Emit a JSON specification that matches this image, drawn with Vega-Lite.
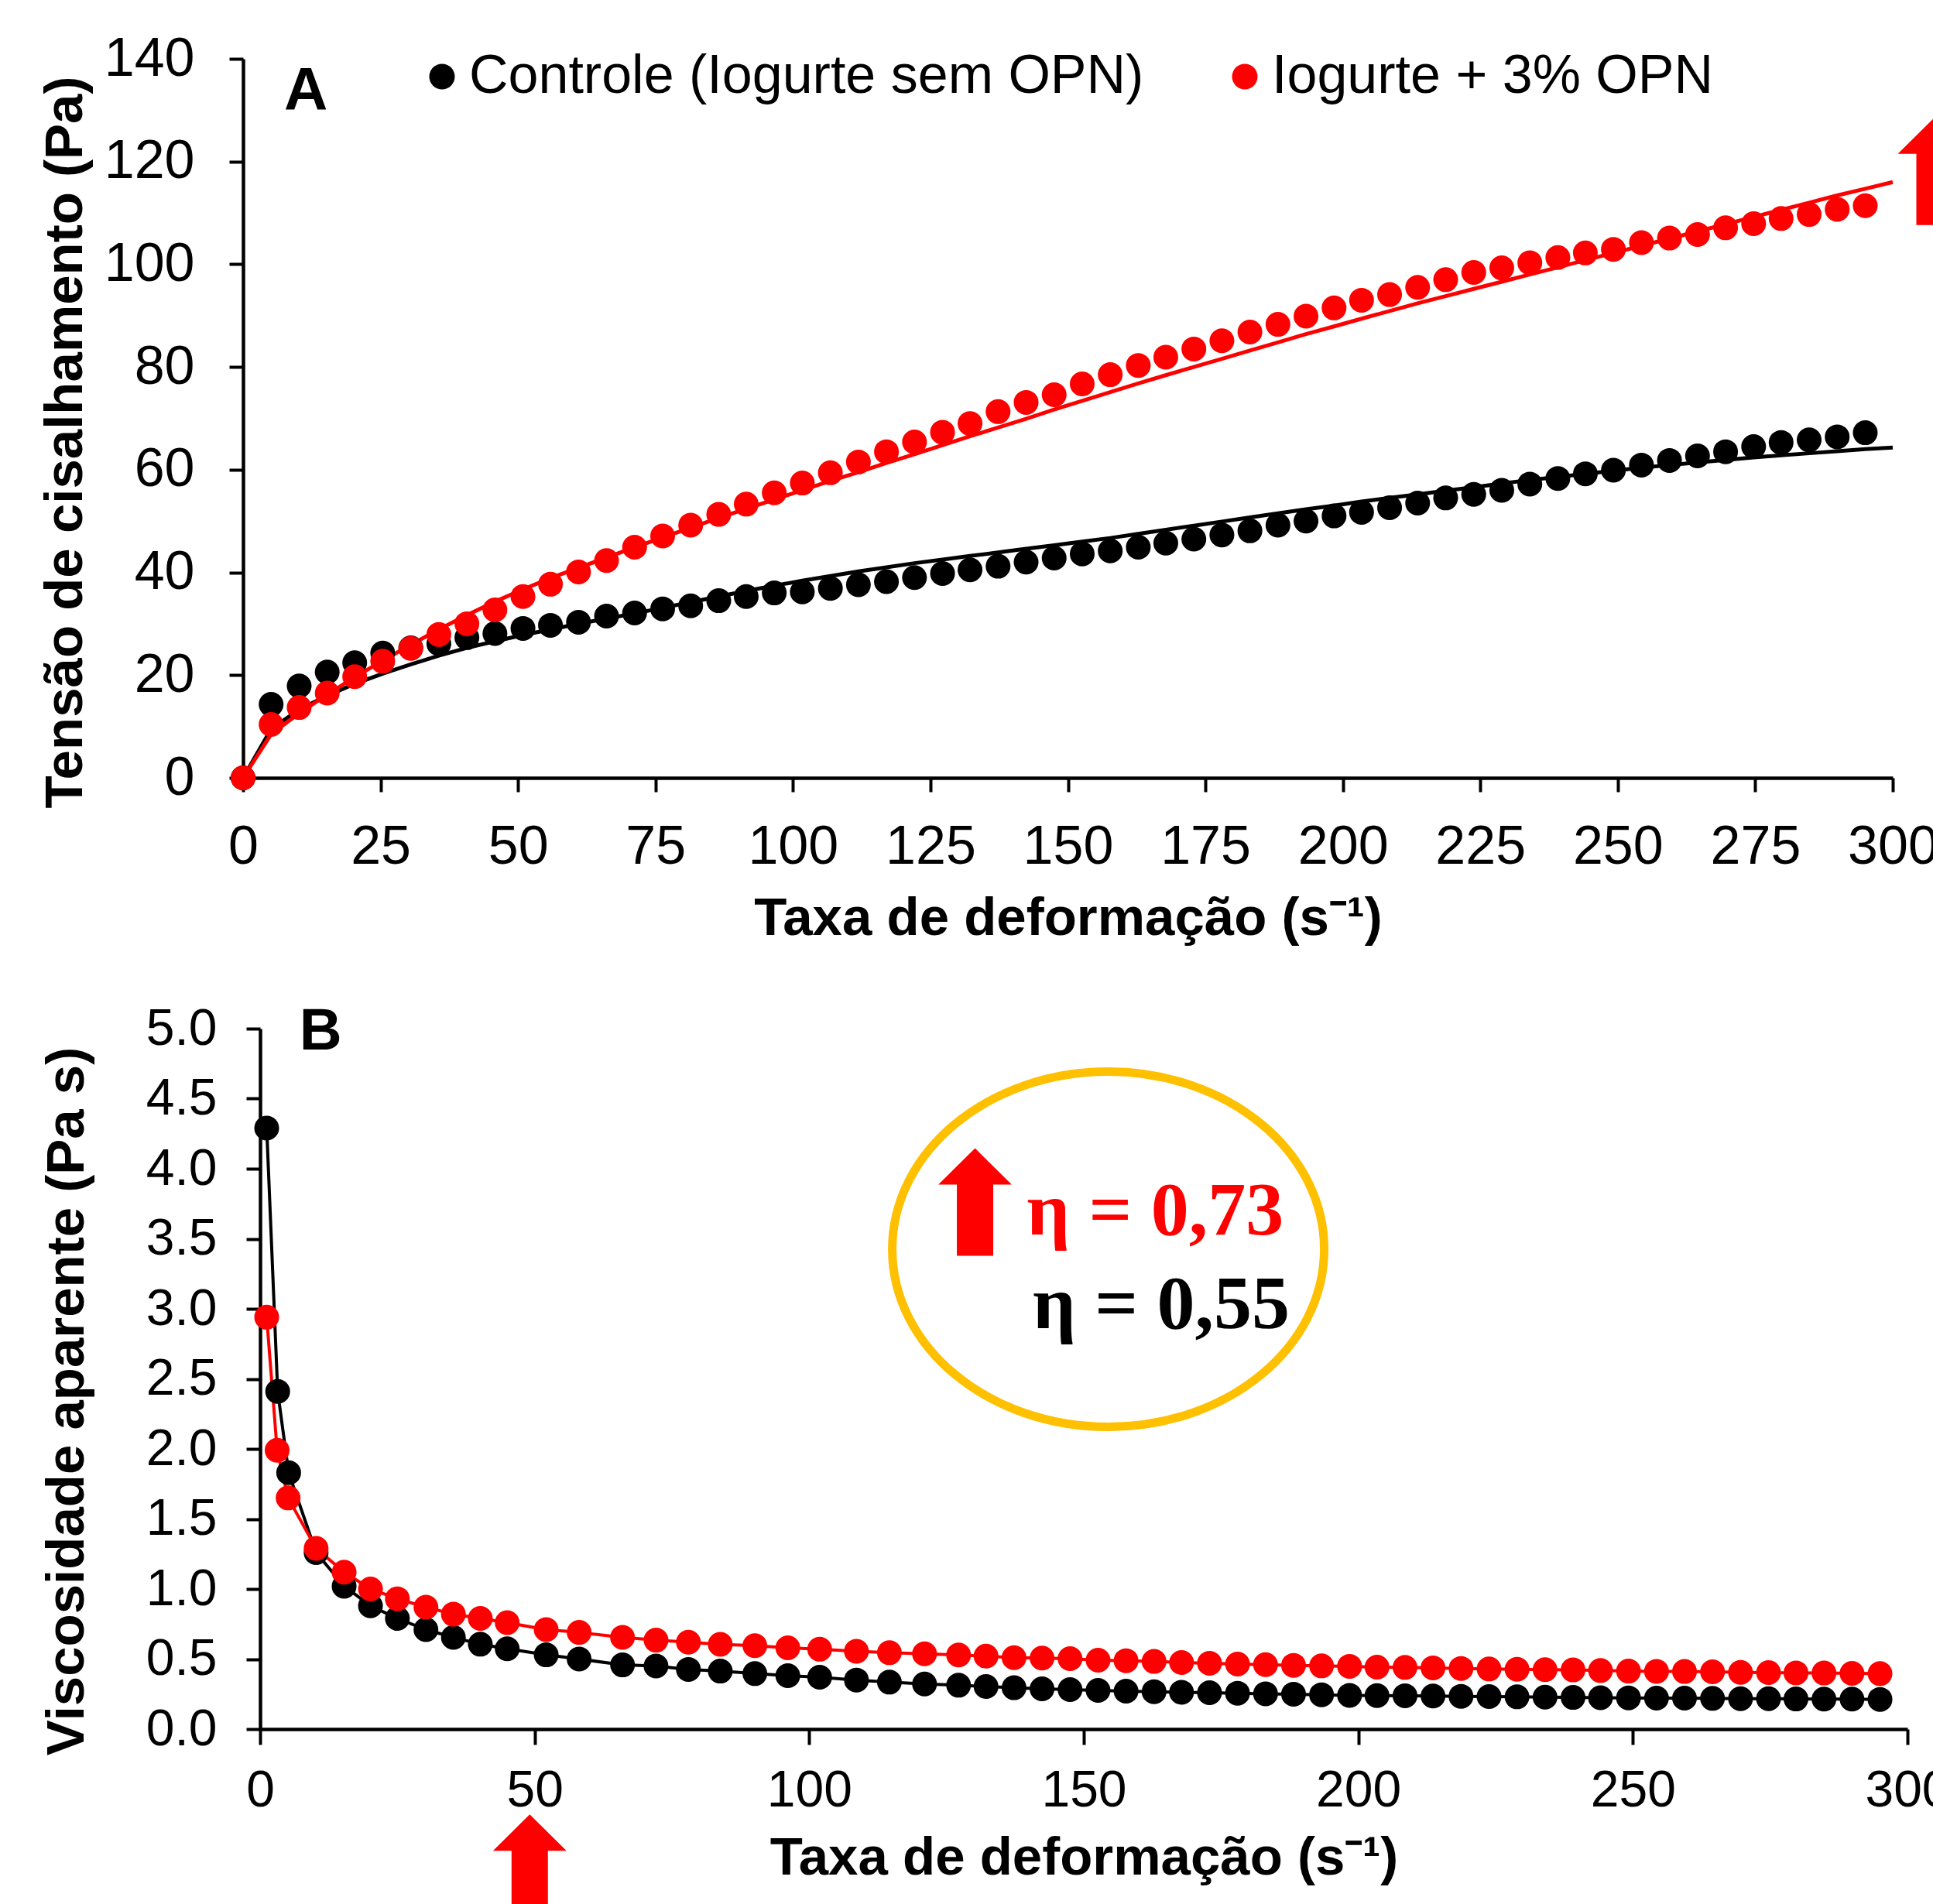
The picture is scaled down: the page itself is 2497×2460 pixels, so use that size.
{
  "$schema": "https://vega.github.io/schema/vega-lite/v6.json",
  "background": "white",
  "padding": {"left": 49, "top": 41, "right": 0, "bottom": 0},
  "autosize": {"type": "pad"},
  "columns": 1,
  "bounds": "full",
  "spacing": 73,
  "config": {
    "font": "Liberation Sans",
    "view": {"stroke": null},
    "axis": {
      "grid": false, "domainColor": "#000000", "domainWidth": 4.5, "tickColor": "#000000", "tickWidth": 4,
      "labelColor": "#000000", "titleColor": "#000000", "labelFont": "Liberation Sans", "titleFont": "Liberation Sans",
      "titleFontWeight": "bold", "labelFlush": false, "labelOverlap": false, "labelBound": false
    }
  },
  "resolve": {"scale": {"color": "independent"}, "legend": {"color": "independent"}},
  "datasets": {
    "ptsA": [
      {"series":"Controle (Iogurte sem OPN)","rate":0,"tau":0},{"series":"Controle (Iogurte sem OPN)","rate":5.1,"tau":14.3},{"series":"Controle (Iogurte sem OPN)","rate":10.2,"tau":17.9},{"series":"Controle (Iogurte sem OPN)","rate":15.3,"tau":20.6},{"series":"Controle (Iogurte sem OPN)","rate":20.3,"tau":22.4},{"series":"Controle (Iogurte sem OPN)","rate":25.4,"tau":24.3},{"series":"Controle (Iogurte sem OPN)","rate":30.5,"tau":25.3},{"series":"Controle (Iogurte sem OPN)","rate":35.6,"tau":26.1},{"series":"Controle (Iogurte sem OPN)","rate":40.7,"tau":27.3},{"series":"Controle (Iogurte sem OPN)","rate":45.8,"tau":28.1},{"series":"Controle (Iogurte sem OPN)","rate":50.9,"tau":29.1},{"series":"Controle (Iogurte sem OPN)","rate":55.9,"tau":29.7},{"series":"Controle (Iogurte sem OPN)","rate":61.0,"tau":30.3},{"series":"Controle (Iogurte sem OPN)","rate":66.1,"tau":31.5},{"series":"Controle (Iogurte sem OPN)","rate":71.2,"tau":32.1},{"series":"Controle (Iogurte sem OPN)","rate":76.3,"tau":32.9},{"series":"Controle (Iogurte sem OPN)","rate":81.4,"tau":33.5},{"series":"Controle (Iogurte sem OPN)","rate":86.5,"tau":34.5},{"series":"Controle (Iogurte sem OPN)","rate":91.5,"tau":35.3},{"series":"Controle (Iogurte sem OPN)","rate":96.6,"tau":36.0},{"series":"Controle (Iogurte sem OPN)","rate":101.7,"tau":36.2},{"series":"Controle (Iogurte sem OPN)","rate":106.8,"tau":36.9},{"series":"Controle (Iogurte sem OPN)","rate":111.9,"tau":37.6},{"series":"Controle (Iogurte sem OPN)","rate":117.0,"tau":38.2},{"series":"Controle (Iogurte sem OPN)","rate":122.1,"tau":39.0},{"series":"Controle (Iogurte sem OPN)","rate":127.2,"tau":39.8},{"series":"Controle (Iogurte sem OPN)","rate":132.2,"tau":40.5},{"series":"Controle (Iogurte sem OPN)","rate":137.3,"tau":41.2},{"series":"Controle (Iogurte sem OPN)","rate":142.4,"tau":42.0},{"series":"Controle (Iogurte sem OPN)","rate":147.5,"tau":42.8},{"series":"Controle (Iogurte sem OPN)","rate":152.6,"tau":43.6},{"series":"Controle (Iogurte sem OPN)","rate":157.7,"tau":44.2},{"series":"Controle (Iogurte sem OPN)","rate":162.8,"tau":44.9},{"series":"Controle (Iogurte sem OPN)","rate":167.8,"tau":45.7},{"series":"Controle (Iogurte sem OPN)","rate":172.9,"tau":46.5},{"series":"Controle (Iogurte sem OPN)","rate":178.0,"tau":47.3},{"series":"Controle (Iogurte sem OPN)","rate":183.1,"tau":48.1},{"series":"Controle (Iogurte sem OPN)","rate":188.2,"tau":49.2},{"series":"Controle (Iogurte sem OPN)","rate":193.3,"tau":50.0},{"series":"Controle (Iogurte sem OPN)","rate":198.4,"tau":51.0},{"series":"Controle (Iogurte sem OPN)","rate":203.4,"tau":51.7},{"series":"Controle (Iogurte sem OPN)","rate":208.5,"tau":52.6},{"series":"Controle (Iogurte sem OPN)","rate":213.6,"tau":53.5},{"series":"Controle (Iogurte sem OPN)","rate":218.7,"tau":54.5},{"series":"Controle (Iogurte sem OPN)","rate":223.8,"tau":55.2},{"series":"Controle (Iogurte sem OPN)","rate":228.9,"tau":56.0},{"series":"Controle (Iogurte sem OPN)","rate":234.0,"tau":57.2},{"series":"Controle (Iogurte sem OPN)","rate":239.1,"tau":58.3},{"series":"Controle (Iogurte sem OPN)","rate":244.1,"tau":59.2},{"series":"Controle (Iogurte sem OPN)","rate":249.2,"tau":59.9},{"series":"Controle (Iogurte sem OPN)","rate":254.3,"tau":60.9},{"series":"Controle (Iogurte sem OPN)","rate":259.4,"tau":61.8},{"series":"Controle (Iogurte sem OPN)","rate":264.5,"tau":62.7},{"series":"Controle (Iogurte sem OPN)","rate":269.6,"tau":63.5},{"series":"Controle (Iogurte sem OPN)","rate":274.7,"tau":64.5},{"series":"Controle (Iogurte sem OPN)","rate":279.7,"tau":65.3},{"series":"Controle (Iogurte sem OPN)","rate":284.8,"tau":65.8},{"series":"Controle (Iogurte sem OPN)","rate":289.9,"tau":66.4},{"series":"Controle (Iogurte sem OPN)","rate":295.0,"tau":67.2},
      {"series":"Iogurte + 3% OPN","rate":0,"tau":0},{"series":"Iogurte + 3% OPN","rate":5.1,"tau":10.4},{"series":"Iogurte + 3% OPN","rate":10.2,"tau":13.7},{"series":"Iogurte + 3% OPN","rate":15.3,"tau":16.5},{"series":"Iogurte + 3% OPN","rate":20.3,"tau":19.7},{"series":"Iogurte + 3% OPN","rate":25.4,"tau":22.7},{"series":"Iogurte + 3% OPN","rate":30.5,"tau":25.2},{"series":"Iogurte + 3% OPN","rate":35.6,"tau":27.9},{"series":"Iogurte + 3% OPN","rate":40.7,"tau":30.0},{"series":"Iogurte + 3% OPN","rate":45.8,"tau":32.7},{"series":"Iogurte + 3% OPN","rate":50.9,"tau":35.3},{"series":"Iogurte + 3% OPN","rate":55.9,"tau":37.7},{"series":"Iogurte + 3% OPN","rate":61.0,"tau":40.1},{"series":"Iogurte + 3% OPN","rate":66.1,"tau":42.3},{"series":"Iogurte + 3% OPN","rate":71.2,"tau":44.9},{"series":"Iogurte + 3% OPN","rate":76.3,"tau":47.1},{"series":"Iogurte + 3% OPN","rate":81.4,"tau":49.2},{"series":"Iogurte + 3% OPN","rate":86.5,"tau":51.3},{"series":"Iogurte + 3% OPN","rate":91.5,"tau":53.3},{"series":"Iogurte + 3% OPN","rate":96.6,"tau":55.5},{"series":"Iogurte + 3% OPN","rate":101.7,"tau":57.4},{"series":"Iogurte + 3% OPN","rate":106.8,"tau":59.4},{"series":"Iogurte + 3% OPN","rate":111.9,"tau":61.5},{"series":"Iogurte + 3% OPN","rate":117.0,"tau":63.5},{"series":"Iogurte + 3% OPN","rate":122.1,"tau":65.4},{"series":"Iogurte + 3% OPN","rate":127.2,"tau":67.3},{"series":"Iogurte + 3% OPN","rate":132.2,"tau":69.0},{"series":"Iogurte + 3% OPN","rate":137.3,"tau":71.3},{"series":"Iogurte + 3% OPN","rate":142.4,"tau":73.1},{"series":"Iogurte + 3% OPN","rate":147.5,"tau":74.6},{"series":"Iogurte + 3% OPN","rate":152.6,"tau":76.7},{"series":"Iogurte + 3% OPN","rate":157.7,"tau":78.5},{"series":"Iogurte + 3% OPN","rate":162.8,"tau":80.3},{"series":"Iogurte + 3% OPN","rate":167.8,"tau":81.9},{"series":"Iogurte + 3% OPN","rate":172.9,"tau":83.5},{"series":"Iogurte + 3% OPN","rate":178.0,"tau":85.1},{"series":"Iogurte + 3% OPN","rate":183.1,"tau":86.8},{"series":"Iogurte + 3% OPN","rate":188.2,"tau":88.3},{"series":"Iogurte + 3% OPN","rate":193.3,"tau":89.9},{"series":"Iogurte + 3% OPN","rate":198.4,"tau":91.5},{"series":"Iogurte + 3% OPN","rate":203.4,"tau":93.0},{"series":"Iogurte + 3% OPN","rate":208.5,"tau":94.1},{"series":"Iogurte + 3% OPN","rate":213.6,"tau":95.5},{"series":"Iogurte + 3% OPN","rate":218.7,"tau":97.0},{"series":"Iogurte + 3% OPN","rate":223.8,"tau":98.4},{"series":"Iogurte + 3% OPN","rate":228.9,"tau":99.3},{"series":"Iogurte + 3% OPN","rate":234.0,"tau":100.3},{"series":"Iogurte + 3% OPN","rate":239.1,"tau":101.3},{"series":"Iogurte + 3% OPN","rate":244.1,"tau":102.2},{"series":"Iogurte + 3% OPN","rate":249.2,"tau":102.9},{"series":"Iogurte + 3% OPN","rate":254.3,"tau":104.2},{"series":"Iogurte + 3% OPN","rate":259.4,"tau":105.1},{"series":"Iogurte + 3% OPN","rate":264.5,"tau":105.8},{"series":"Iogurte + 3% OPN","rate":269.6,"tau":107.1},{"series":"Iogurte + 3% OPN","rate":274.7,"tau":107.9},{"series":"Iogurte + 3% OPN","rate":279.7,"tau":108.9},{"series":"Iogurte + 3% OPN","rate":284.8,"tau":109.7},{"series":"Iogurte + 3% OPN","rate":289.9,"tau":110.7},{"series":"Iogurte + 3% OPN","rate":295.0,"tau":111.4}
    ],
    "fitA": [
      {"series":"Controle (Iogurte sem OPN)","rate":0,"tau":0},{"series":"Controle (Iogurte sem OPN)","rate":5.1,"tau":9.5},{"series":"Controle (Iogurte sem OPN)","rate":10.2,"tau":13.3},{"series":"Controle (Iogurte sem OPN)","rate":15.3,"tau":16.0},{"series":"Controle (Iogurte sem OPN)","rate":20.3,"tau":18.3},{"series":"Controle (Iogurte sem OPN)","rate":25.4,"tau":20.3},{"series":"Controle (Iogurte sem OPN)","rate":30.5,"tau":22.1},{"series":"Controle (Iogurte sem OPN)","rate":35.6,"tau":23.8},{"series":"Controle (Iogurte sem OPN)","rate":40.7,"tau":25.3},{"series":"Controle (Iogurte sem OPN)","rate":45.8,"tau":26.6},{"series":"Controle (Iogurte sem OPN)","rate":50.9,"tau":27.8},{"series":"Controle (Iogurte sem OPN)","rate":55.9,"tau":28.9},{"series":"Controle (Iogurte sem OPN)","rate":61.0,"tau":30.0},{"series":"Controle (Iogurte sem OPN)","rate":66.1,"tau":31.0},{"series":"Controle (Iogurte sem OPN)","rate":71.2,"tau":32.0},{"series":"Controle (Iogurte sem OPN)","rate":76.3,"tau":33.1},{"series":"Controle (Iogurte sem OPN)","rate":81.4,"tau":34.2},{"series":"Controle (Iogurte sem OPN)","rate":86.5,"tau":35.3},{"series":"Controle (Iogurte sem OPN)","rate":91.5,"tau":36.4},{"series":"Controle (Iogurte sem OPN)","rate":96.6,"tau":37.4},{"series":"Controle (Iogurte sem OPN)","rate":101.7,"tau":38.4},{"series":"Controle (Iogurte sem OPN)","rate":106.8,"tau":39.3},{"series":"Controle (Iogurte sem OPN)","rate":111.9,"tau":40.2},{"series":"Controle (Iogurte sem OPN)","rate":117.0,"tau":41.0},{"series":"Controle (Iogurte sem OPN)","rate":122.1,"tau":41.8},{"series":"Controle (Iogurte sem OPN)","rate":127.2,"tau":42.5},{"series":"Controle (Iogurte sem OPN)","rate":132.2,"tau":43.2},{"series":"Controle (Iogurte sem OPN)","rate":137.3,"tau":43.9},{"series":"Controle (Iogurte sem OPN)","rate":142.4,"tau":44.6},{"series":"Controle (Iogurte sem OPN)","rate":147.5,"tau":45.3},{"series":"Controle (Iogurte sem OPN)","rate":152.6,"tau":46.0},{"series":"Controle (Iogurte sem OPN)","rate":157.7,"tau":46.7},{"series":"Controle (Iogurte sem OPN)","rate":162.8,"tau":47.5},{"series":"Controle (Iogurte sem OPN)","rate":167.8,"tau":48.3},{"series":"Controle (Iogurte sem OPN)","rate":172.9,"tau":49.1},{"series":"Controle (Iogurte sem OPN)","rate":178.0,"tau":49.9},{"series":"Controle (Iogurte sem OPN)","rate":183.1,"tau":50.7},{"series":"Controle (Iogurte sem OPN)","rate":188.2,"tau":51.5},{"series":"Controle (Iogurte sem OPN)","rate":193.3,"tau":52.3},{"series":"Controle (Iogurte sem OPN)","rate":198.4,"tau":53.0},{"series":"Controle (Iogurte sem OPN)","rate":203.4,"tau":53.8},{"series":"Controle (Iogurte sem OPN)","rate":208.5,"tau":54.5},{"series":"Controle (Iogurte sem OPN)","rate":213.6,"tau":55.2},{"series":"Controle (Iogurte sem OPN)","rate":218.7,"tau":55.9},{"series":"Controle (Iogurte sem OPN)","rate":223.8,"tau":56.6},{"series":"Controle (Iogurte sem OPN)","rate":228.9,"tau":57.3},{"series":"Controle (Iogurte sem OPN)","rate":234.0,"tau":58.0},{"series":"Controle (Iogurte sem OPN)","rate":239.1,"tau":58.6},{"series":"Controle (Iogurte sem OPN)","rate":244.1,"tau":59.2},{"series":"Controle (Iogurte sem OPN)","rate":249.2,"tau":59.8},{"series":"Controle (Iogurte sem OPN)","rate":254.3,"tau":60.4},{"series":"Controle (Iogurte sem OPN)","rate":259.4,"tau":60.9},{"series":"Controle (Iogurte sem OPN)","rate":264.5,"tau":61.4},{"series":"Controle (Iogurte sem OPN)","rate":269.6,"tau":61.9},{"series":"Controle (Iogurte sem OPN)","rate":274.7,"tau":62.4},{"series":"Controle (Iogurte sem OPN)","rate":279.7,"tau":62.8},{"series":"Controle (Iogurte sem OPN)","rate":284.8,"tau":63.2},{"series":"Controle (Iogurte sem OPN)","rate":289.9,"tau":63.6},{"series":"Controle (Iogurte sem OPN)","rate":295.0,"tau":64.0},{"series":"Controle (Iogurte sem OPN)","rate":300,"tau":64.3},
      {"series":"Iogurte + 3% OPN","rate":0,"tau":0},{"series":"Iogurte + 3% OPN","rate":5.1,"tau":8.5},{"series":"Iogurte + 3% OPN","rate":10.2,"tau":12.6},{"series":"Iogurte + 3% OPN","rate":15.3,"tau":16.2},{"series":"Iogurte + 3% OPN","rate":20.3,"tau":19.6},{"series":"Iogurte + 3% OPN","rate":25.4,"tau":22.8},{"series":"Iogurte + 3% OPN","rate":30.5,"tau":25.9},{"series":"Iogurte + 3% OPN","rate":35.6,"tau":28.9},{"series":"Iogurte + 3% OPN","rate":40.7,"tau":31.7},{"series":"Iogurte + 3% OPN","rate":45.8,"tau":34.3},{"series":"Iogurte + 3% OPN","rate":50.9,"tau":36.7},{"series":"Iogurte + 3% OPN","rate":55.9,"tau":38.9},{"series":"Iogurte + 3% OPN","rate":61.0,"tau":40.9},{"series":"Iogurte + 3% OPN","rate":66.1,"tau":42.9},{"series":"Iogurte + 3% OPN","rate":71.2,"tau":44.9},{"series":"Iogurte + 3% OPN","rate":76.3,"tau":46.8},{"series":"Iogurte + 3% OPN","rate":81.4,"tau":48.7},{"series":"Iogurte + 3% OPN","rate":86.5,"tau":50.6},{"series":"Iogurte + 3% OPN","rate":91.5,"tau":52.4},{"series":"Iogurte + 3% OPN","rate":96.6,"tau":54.2},{"series":"Iogurte + 3% OPN","rate":101.7,"tau":56.0},{"series":"Iogurte + 3% OPN","rate":106.8,"tau":57.8},{"series":"Iogurte + 3% OPN","rate":111.9,"tau":59.5},{"series":"Iogurte + 3% OPN","rate":117.0,"tau":61.3},{"series":"Iogurte + 3% OPN","rate":122.1,"tau":63.0},{"series":"Iogurte + 3% OPN","rate":127.2,"tau":64.8},{"series":"Iogurte + 3% OPN","rate":132.2,"tau":66.5},{"series":"Iogurte + 3% OPN","rate":137.3,"tau":68.2},{"series":"Iogurte + 3% OPN","rate":142.4,"tau":69.9},{"series":"Iogurte + 3% OPN","rate":147.5,"tau":71.7},{"series":"Iogurte + 3% OPN","rate":152.6,"tau":73.4},{"series":"Iogurte + 3% OPN","rate":157.7,"tau":75.1},{"series":"Iogurte + 3% OPN","rate":162.8,"tau":76.8},{"series":"Iogurte + 3% OPN","rate":167.8,"tau":78.4},{"series":"Iogurte + 3% OPN","rate":172.9,"tau":80.0},{"series":"Iogurte + 3% OPN","rate":178.0,"tau":81.6},{"series":"Iogurte + 3% OPN","rate":183.1,"tau":83.2},{"series":"Iogurte + 3% OPN","rate":188.2,"tau":84.8},{"series":"Iogurte + 3% OPN","rate":193.3,"tau":86.4},{"series":"Iogurte + 3% OPN","rate":198.4,"tau":87.9},{"series":"Iogurte + 3% OPN","rate":203.4,"tau":89.4},{"series":"Iogurte + 3% OPN","rate":208.5,"tau":90.9},{"series":"Iogurte + 3% OPN","rate":213.6,"tau":92.4},{"series":"Iogurte + 3% OPN","rate":218.7,"tau":93.8},{"series":"Iogurte + 3% OPN","rate":223.8,"tau":95.2},{"series":"Iogurte + 3% OPN","rate":228.9,"tau":96.6},{"series":"Iogurte + 3% OPN","rate":234.0,"tau":98.0},{"series":"Iogurte + 3% OPN","rate":239.1,"tau":99.4},{"series":"Iogurte + 3% OPN","rate":244.1,"tau":100.8},{"series":"Iogurte + 3% OPN","rate":249.2,"tau":102.2},{"series":"Iogurte + 3% OPN","rate":254.3,"tau":103.6},{"series":"Iogurte + 3% OPN","rate":259.4,"tau":105.0},{"series":"Iogurte + 3% OPN","rate":264.5,"tau":106.4},{"series":"Iogurte + 3% OPN","rate":269.6,"tau":107.8},{"series":"Iogurte + 3% OPN","rate":274.7,"tau":109.2},{"series":"Iogurte + 3% OPN","rate":279.7,"tau":110.6},{"series":"Iogurte + 3% OPN","rate":284.8,"tau":112.0},{"series":"Iogurte + 3% OPN","rate":289.9,"tau":113.4},{"series":"Iogurte + 3% OPN","rate":295.0,"tau":114.7},{"series":"Iogurte + 3% OPN","rate":300,"tau":116.0}
    ],
    "labA": [{"rate": 7.46, "tau": 130.0, "label": "A"}],
    "arrowA": [{"rate": 307.6, "tau": 118.1}],
    "ptsB": [
      {"series":"Controle (Iogurte sem OPN)","rate":1.2,"eta":4.29},{"series":"Controle (Iogurte sem OPN)","rate":3.2,"eta":2.41},{"series":"Controle (Iogurte sem OPN)","rate":5.2,"eta":1.83},{"series":"Controle (Iogurte sem OPN)","rate":10.2,"eta":1.26},{"series":"Controle (Iogurte sem OPN)","rate":15.3,"eta":1.02},{"series":"Controle (Iogurte sem OPN)","rate":20.1,"eta":0.88},{"series":"Controle (Iogurte sem OPN)","rate":25.0,"eta":0.79},{"series":"Controle (Iogurte sem OPN)","rate":30.2,"eta":0.71},{"series":"Controle (Iogurte sem OPN)","rate":35.2,"eta":0.655},{"series":"Controle (Iogurte sem OPN)","rate":40.1,"eta":0.606},{"series":"Controle (Iogurte sem OPN)","rate":45.0,"eta":0.573},{"series":"Controle (Iogurte sem OPN)","rate":52.1,"eta":0.53},{"series":"Controle (Iogurte sem OPN)","rate":58.1,"eta":0.5},{"series":"Controle (Iogurte sem OPN)","rate":66.0,"eta":0.458},{"series":"Controle (Iogurte sem OPN)","rate":72.1,"eta":0.45},{"series":"Controle (Iogurte sem OPN)","rate":78.0,"eta":0.426},{"series":"Controle (Iogurte sem OPN)","rate":83.8,"eta":0.414},{"series":"Controle (Iogurte sem OPN)","rate":90.1,"eta":0.396},{"series":"Controle (Iogurte sem OPN)","rate":96.1,"eta":0.381},{"series":"Controle (Iogurte sem OPN)","rate":101.9,"eta":0.37},{"series":"Controle (Iogurte sem OPN)","rate":108.6,"eta":0.35},{"series":"Controle (Iogurte sem OPN)","rate":114.6,"eta":0.335},{"series":"Controle (Iogurte sem OPN)","rate":121.0,"eta":0.322},{"series":"Controle (Iogurte sem OPN)","rate":127.2,"eta":0.313},{"series":"Controle (Iogurte sem OPN)","rate":132.2,"eta":0.304},{"series":"Controle (Iogurte sem OPN)","rate":137.3,"eta":0.295},{"series":"Controle (Iogurte sem OPN)","rate":142.4,"eta":0.287},{"series":"Controle (Iogurte sem OPN)","rate":147.5,"eta":0.282},{"series":"Controle (Iogurte sem OPN)","rate":152.6,"eta":0.276},{"series":"Controle (Iogurte sem OPN)","rate":157.7,"eta":0.271},{"series":"Controle (Iogurte sem OPN)","rate":162.8,"eta":0.267},{"series":"Controle (Iogurte sem OPN)","rate":167.8,"eta":0.263},{"series":"Controle (Iogurte sem OPN)","rate":172.9,"eta":0.26},{"series":"Controle (Iogurte sem OPN)","rate":178.0,"eta":0.256},{"series":"Controle (Iogurte sem OPN)","rate":183.1,"eta":0.252},{"series":"Controle (Iogurte sem OPN)","rate":188.2,"eta":0.249},{"series":"Controle (Iogurte sem OPN)","rate":193.3,"eta":0.245},{"series":"Controle (Iogurte sem OPN)","rate":198.4,"eta":0.241},{"series":"Controle (Iogurte sem OPN)","rate":203.4,"eta":0.239},{"series":"Controle (Iogurte sem OPN)","rate":208.5,"eta":0.238},{"series":"Controle (Iogurte sem OPN)","rate":213.6,"eta":0.236},{"series":"Controle (Iogurte sem OPN)","rate":218.7,"eta":0.234},{"series":"Controle (Iogurte sem OPN)","rate":223.8,"eta":0.232},{"series":"Controle (Iogurte sem OPN)","rate":228.9,"eta":0.23},{"series":"Controle (Iogurte sem OPN)","rate":234.0,"eta":0.228},{"series":"Controle (Iogurte sem OPN)","rate":239.1,"eta":0.226},{"series":"Controle (Iogurte sem OPN)","rate":244.1,"eta":0.224},{"series":"Controle (Iogurte sem OPN)","rate":249.2,"eta":0.223},{"series":"Controle (Iogurte sem OPN)","rate":254.3,"eta":0.221},{"series":"Controle (Iogurte sem OPN)","rate":259.4,"eta":0.221},{"series":"Controle (Iogurte sem OPN)","rate":264.5,"eta":0.219},{"series":"Controle (Iogurte sem OPN)","rate":269.6,"eta":0.217},{"series":"Controle (Iogurte sem OPN)","rate":274.7,"eta":0.217},{"series":"Controle (Iogurte sem OPN)","rate":279.7,"eta":0.215},{"series":"Controle (Iogurte sem OPN)","rate":284.8,"eta":0.214},{"series":"Controle (Iogurte sem OPN)","rate":289.9,"eta":0.214},{"series":"Controle (Iogurte sem OPN)","rate":295.0,"eta":0.212},
      {"series":"Iogurte + 3% OPN","rate":1.2,"eta":2.94},{"series":"Iogurte + 3% OPN","rate":3.1,"eta":1.99},{"series":"Iogurte + 3% OPN","rate":5.1,"eta":1.65},{"series":"Iogurte + 3% OPN","rate":10.2,"eta":1.29},{"series":"Iogurte + 3% OPN","rate":15.3,"eta":1.12},{"series":"Iogurte + 3% OPN","rate":20.1,"eta":1.0},{"series":"Iogurte + 3% OPN","rate":25.0,"eta":0.93},{"series":"Iogurte + 3% OPN","rate":30.2,"eta":0.87},{"series":"Iogurte + 3% OPN","rate":35.2,"eta":0.82},{"series":"Iogurte + 3% OPN","rate":40.1,"eta":0.79},{"series":"Iogurte + 3% OPN","rate":45.0,"eta":0.76},{"series":"Iogurte + 3% OPN","rate":52.1,"eta":0.71},{"series":"Iogurte + 3% OPN","rate":58.1,"eta":0.69},{"series":"Iogurte + 3% OPN","rate":66.0,"eta":0.655},{"series":"Iogurte + 3% OPN","rate":72.1,"eta":0.635},{"series":"Iogurte + 3% OPN","rate":78.0,"eta":0.62},{"series":"Iogurte + 3% OPN","rate":83.8,"eta":0.605},{"series":"Iogurte + 3% OPN","rate":90.1,"eta":0.595},{"series":"Iogurte + 3% OPN","rate":96.1,"eta":0.58},{"series":"Iogurte + 3% OPN","rate":101.9,"eta":0.57},{"series":"Iogurte + 3% OPN","rate":108.6,"eta":0.555},{"series":"Iogurte + 3% OPN","rate":114.6,"eta":0.545},{"series":"Iogurte + 3% OPN","rate":121.0,"eta":0.537},{"series":"Iogurte + 3% OPN","rate":127.2,"eta":0.529},{"series":"Iogurte + 3% OPN","rate":132.2,"eta":0.521},{"series":"Iogurte + 3% OPN","rate":137.3,"eta":0.51},{"series":"Iogurte + 3% OPN","rate":142.4,"eta":0.507},{"series":"Iogurte + 3% OPN","rate":147.5,"eta":0.503},{"series":"Iogurte + 3% OPN","rate":152.6,"eta":0.492},{"series":"Iogurte + 3% OPN","rate":157.7,"eta":0.488},{"series":"Iogurte + 3% OPN","rate":162.8,"eta":0.483},{"series":"Iogurte + 3% OPN","rate":167.8,"eta":0.475},{"series":"Iogurte + 3% OPN","rate":172.9,"eta":0.47},{"series":"Iogurte + 3% OPN","rate":178.0,"eta":0.464},{"series":"Iogurte + 3% OPN","rate":183.1,"eta":0.46},{"series":"Iogurte + 3% OPN","rate":188.2,"eta":0.455},{"series":"Iogurte + 3% OPN","rate":193.3,"eta":0.451},{"series":"Iogurte + 3% OPN","rate":198.4,"eta":0.448},{"series":"Iogurte + 3% OPN","rate":203.4,"eta":0.442},{"series":"Iogurte + 3% OPN","rate":208.5,"eta":0.44},{"series":"Iogurte + 3% OPN","rate":213.6,"eta":0.437},{"series":"Iogurte + 3% OPN","rate":218.7,"eta":0.433},{"series":"Iogurte + 3% OPN","rate":223.8,"eta":0.429},{"series":"Iogurte + 3% OPN","rate":228.9,"eta":0.427},{"series":"Iogurte + 3% OPN","rate":234.0,"eta":0.424},{"series":"Iogurte + 3% OPN","rate":239.1,"eta":0.422},{"series":"Iogurte + 3% OPN","rate":244.1,"eta":0.418},{"series":"Iogurte + 3% OPN","rate":249.2,"eta":0.414},{"series":"Iogurte + 3% OPN","rate":254.3,"eta":0.412},{"series":"Iogurte + 3% OPN","rate":259.4,"eta":0.411},{"series":"Iogurte + 3% OPN","rate":264.5,"eta":0.409},{"series":"Iogurte + 3% OPN","rate":269.6,"eta":0.405},{"series":"Iogurte + 3% OPN","rate":274.7,"eta":0.403},{"series":"Iogurte + 3% OPN","rate":279.7,"eta":0.401},{"series":"Iogurte + 3% OPN","rate":284.8,"eta":0.4},{"series":"Iogurte + 3% OPN","rate":289.9,"eta":0.398},{"series":"Iogurte + 3% OPN","rate":295.0,"eta":0.396}
    ],
    "labB": [{"rate": 7.14, "eta": 4.853, "label": "B"}],
    "etaB": [
      {"series":"Iogurte + 3% OPN","rate":139.6,"eta":3.53,"label":"η = 0,73"},
      {"series":"Controle (Iogurte sem OPN)","rate":140.7,"eta":2.862,"label":"η = 0,55"}
    ],
    "ellipseB": [{"rate": 154.45, "eta": 3.425}],
    "arrowB": [{"rate": 130.2, "eta": 3.762}, {"rate": 49.1, "eta": -0.993}]
  },
  "concat": [
    {
      "width": 2131,
      "height": 929,
      "layer": [
        {
          "data": {"name": "fitA"},
          "transform": [{"filter": "datum.series === 'Controle (Iogurte sem OPN)'"}],
          "mark": {"type": "line", "strokeWidth": 5, "color": "#000000"},
          "encoding": {
            "x": {"field": "rate", "type": "quantitative", "scale": {"domain": [0, 300], "nice": false, "zero": false},
                  "axis": {"title": "Taxa de deformação (s⁻¹)", "values": [0,25,50,75,100,125,150,175,200,225,250,275,300], "labelFontSize": 70, "tickSize": 18, "labelPadding": 37, "titleFontSize": 69, "titleY": 147}},
            "y": {"field": "tau", "type": "quantitative", "scale": {"domain": [0, 140], "nice": false, "zero": false},
                  "axis": {"title": "Tensão de cisalhamento (Pa)", "values": [0,20,40,60,80,100,120,140], "labelFontSize": 70, "tickSize": 18, "labelPadding": 45, "titleFontSize": 69, "titleX": -195, "titleY": 495}}
          }
        },
        {
          "data": {"name": "fitA"},
          "transform": [{"filter": "datum.series === 'Iogurte + 3% OPN'"}],
          "mark": {"type": "line", "strokeWidth": 5, "color": "#FF0000"},
          "encoding": {
            "x": {"field": "rate", "type": "quantitative", "scale": {"domain": [0, 300], "nice": false, "zero": false}},
            "y": {"field": "tau", "type": "quantitative", "scale": {"domain": [0, 140], "nice": false, "zero": false}}
          }
        },
        {
          "data": {"name": "ptsA"},
          "mark": {"type": "point", "filled": true, "size": 1024, "opacity": 1, "strokeWidth": 0},
          "encoding": {
            "x": {"field": "rate", "type": "quantitative", "scale": {"domain": [0, 300], "nice": false, "zero": false}},
            "y": {"field": "tau", "type": "quantitative", "scale": {"domain": [0, 140], "nice": false, "zero": false}},
            "color": {"field": "series", "type": "nominal", "scale": {"domain": ["Controle (Iogurte sem OPN)", "Iogurte + 3% OPN"], "range": ["#000000", "#FF0000"]},
                      "legend": {"orient": "none", "legendX": 222, "legendY": -12, "direction": "horizontal", "title": null, "symbolType": "circle", "symbolSize": 1089, "symbolStrokeWidth": 0, "symbolOpacity": 1, "labelFontSize": 70, "labelFont": "Liberation Sans", "labelColor": "#000000", "labelOffset": 0, "columnPadding": 95, "padding": 0, "labelLimit": 2000}}
          }
        },
        {
          "data": {"name": "labA"},
          "mark": {"type": "text", "font": "Liberation Sans", "fontWeight": "bold", "fontSize": 78, "align": "left", "baseline": "alphabetic", "color": "#000000"},
          "encoding": {
            "x": {"field": "rate", "type": "quantitative", "scale": {"domain": [0, 300], "nice": false, "zero": false}},
            "y": {"field": "tau", "type": "quantitative", "scale": {"domain": [0, 140], "nice": false, "zero": false}},
            "text": {"field": "label"}
          }
        },
        {
          "data": {"name": "arrowA"},
          "mark": {"type": "point", "shape": "M0,-1L0.683,-0.324L0.338,-0.324L0.338,1L-0.338,1L-0.338,-0.324L-0.683,-0.324Z", "filled": true, "color": "#FF0000", "size": 19321, "opacity": 1, "strokeWidth": 0},
          "encoding": {
            "x": {"field": "rate", "type": "quantitative", "scale": {"domain": [0, 300], "nice": false, "zero": false}},
            "y": {"field": "tau", "type": "quantitative", "scale": {"domain": [0, 140], "nice": false, "zero": false}}
          }
        }
      ]
    },
    {
      "width": 2150,
      "height": 905,
      "layer": [
        {
          "data": {"name": "ptsB"},
          "mark": {"type": "line", "strokeWidth": 4},
          "encoding": {
            "x": {"field": "rate", "type": "quantitative", "scale": {"domain": [0, 300], "range": [22, 2150], "nice": false, "zero": false},
                  "axis": {"title": "Taxa de deformação (s⁻¹)", "values": [0,50,100,150,200,250,300], "labelFontSize": 66, "tickSize": 20, "labelPadding": 27, "titleFontSize": 69, "titleY": 132}},
            "y": {"field": "eta", "type": "quantitative", "scale": {"domain": [0, 5], "nice": false, "zero": false},
                  "axis": {"title": "Viscosidade aparente (Pa s)", "offset": -22, "values": [0,0.5,1,1.5,2,2.5,3,3.5,4,4.5,5], "format": ".1f", "labelFontSize": 66, "tickSize": 18, "labelPadding": 38, "titleFontSize": 69, "titleX": -215, "titleY": 481}},
            "color": {"field": "series", "type": "nominal", "scale": {"domain": ["Controle (Iogurte sem OPN)", "Iogurte + 3% OPN"], "range": ["#000000", "#FF0000"]}, "legend": null}
          }
        },
        {
          "data": {"name": "ptsB"},
          "mark": {"type": "point", "filled": true, "size": 1024, "opacity": 1, "strokeWidth": 0},
          "encoding": {
            "x": {"field": "rate", "type": "quantitative", "scale": {"domain": [0, 300], "range": [22, 2150], "nice": false, "zero": false}},
            "y": {"field": "eta", "type": "quantitative", "scale": {"domain": [0, 5], "nice": false, "zero": false}},
            "color": {"field": "series", "type": "nominal", "scale": {"domain": ["Controle (Iogurte sem OPN)", "Iogurte + 3% OPN"], "range": ["#000000", "#FF0000"]}, "legend": null}
          }
        },
        {
          "data": {"name": "labB"},
          "mark": {"type": "text", "font": "Liberation Sans", "fontWeight": "bold", "fontSize": 76, "align": "left", "baseline": "alphabetic", "color": "#000000"},
          "encoding": {
            "x": {"field": "rate", "type": "quantitative", "scale": {"domain": [0, 300], "range": [22, 2150], "nice": false, "zero": false}},
            "y": {"field": "eta", "type": "quantitative", "scale": {"domain": [0, 5], "nice": false, "zero": false}},
            "text": {"field": "label"}
          }
        },
        {
          "data": {"name": "ellipseB"},
          "mark": {"type": "point", "shape": "M1,0C1,0.4543,0.5523,0.8226,0,0.8226C-0.5523,0.8226,-1,0.4543,-1,0C-1,-0.4543,-0.5523,-0.8226,0,-0.8226C0.5523,-0.8226,1,-0.4543,1,0Z", "filled": false, "color": "#FFC000", "strokeWidth": 11, "size": 311364, "opacity": 1},
          "encoding": {
            "x": {"field": "rate", "type": "quantitative", "scale": {"domain": [0, 300], "range": [22, 2150], "nice": false, "zero": false}},
            "y": {"field": "eta", "type": "quantitative", "scale": {"domain": [0, 5], "nice": false, "zero": false}}
          }
        },
        {
          "data": {"name": "arrowB"},
          "mark": {"type": "point", "shape": "M0,-1L0.683,-0.324L0.338,-0.324L0.338,1L-0.338,1L-0.338,-0.324L-0.683,-0.324Z", "filled": true, "color": "#FF0000", "size": 19321, "opacity": 1, "strokeWidth": 0},
          "encoding": {
            "x": {"field": "rate", "type": "quantitative", "scale": {"domain": [0, 300], "range": [22, 2150], "nice": false, "zero": false}},
            "y": {"field": "eta", "type": "quantitative", "scale": {"domain": [0, 5], "nice": false, "zero": false}}
          }
        },
        {
          "data": {"name": "etaB"},
          "mark": {"type": "text", "font": "Liberation Serif", "fontWeight": "bold", "fontSize": 98, "align": "left", "baseline": "alphabetic"},
          "encoding": {
            "x": {"field": "rate", "type": "quantitative", "scale": {"domain": [0, 300], "range": [22, 2150], "nice": false, "zero": false}},
            "y": {"field": "eta", "type": "quantitative", "scale": {"domain": [0, 5], "nice": false, "zero": false}},
            "text": {"field": "label"},
            "color": {"field": "series", "type": "nominal", "scale": {"domain": ["Controle (Iogurte sem OPN)", "Iogurte + 3% OPN"], "range": ["#000000", "#FF0000"]}, "legend": null}
          }
        }
      ]
    }
  ]
}
